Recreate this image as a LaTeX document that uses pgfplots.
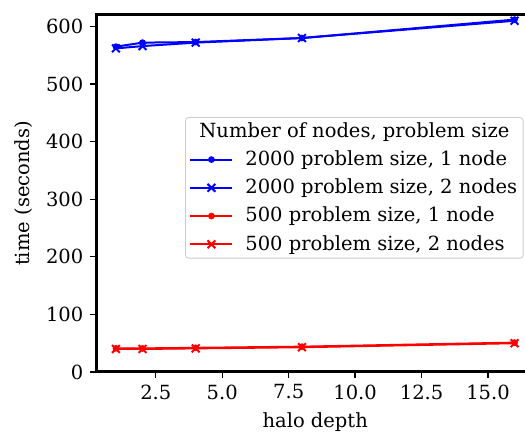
\documentclass[border=0pt]{standalone}
\usepackage{fontspec}
\setmainfont{DejaVu Serif}
\usepackage{pgfplots}
\pgfplotsset{compat=1.18}
\definecolor{seriesblue}{RGB}{0,0,255}
\definecolor{seriesred}{RGB}{255,0,0}
\definecolor{legendedge}{RGB}{204,204,204}
\newcommand{\chartfont}{\fontsize{19.5bp}{23bp}\selectfont}
\begin{document}
\chartfont
\begin{tikzpicture}[x=1bp,y=1bp]
\begin{axis}[
  at={(96bp,61bp)}, anchor=south west,
  scale only axis,
  width=438.5bp, height=357bp,
  xmin=0.25, xmax=16.75,
  ymin=0, ymax=620,
  xtick={2.5,5,7.5,10,12.5,15},
  xticklabels={2.5,5.0,7.5,10.0,12.5,15.0},
  ytick={0,100,...,600},
  /pgf/number format/assume math mode=true,
  tick align=outside, tick pos=left,
  major tick length=6bp,
  every tick/.style={black, line width=1.3bp},
  axis line style={black, line width=3bp},
  tick label style={font=\chartfont},
  label style={font=\chartfont},
  xlabel={halo depth},
  ylabel={time (seconds)},
  x label style={at={(ticklabel cs:0.5)}},
  legend style={
    at={(0.203,0.714)}, anchor=north west,
    draw=legendedge, rounded corners=3bp, line width=0.8bp,
    fill=white, fill opacity=0.8, text opacity=1,
    font=\chartfont,
    inner xsep=4bp, inner ysep=3bp,
    row sep=6.5bp, column sep=10bp,
  },
  legend cell align=left,
  legend image code/.code={
    \draw[mark repeat=2,mark phase=2]
      plot coordinates {(0bp,0bp) (21bp,0bp) (42bp,0bp)};
  },
  every axis plot/.append style={line width=2bp},
]
\addlegendimage{empty legend}
\addlegendentry{\hspace*{-46bp}Number of nodes, problem size}

\addplot[seriesblue, mark=*, mark size=2.3bp, mark options={solid}]
  coordinates {(1,565) (2,572) (4,573) (8,580) (16,612)};
\addlegendentry{2000 problem size, 1 node}

\addplot[seriesblue, mark=x, mark size=5.5bp, mark options={solid}]
  coordinates {(1,562) (2,566) (4,572) (8,580) (16,610)};
\addlegendentry{2000 problem size, 2 nodes}

\addplot[seriesred, mark=*, mark size=2.3bp, mark options={solid}]
  coordinates {(1,41) (2,41) (4,42) (8,44) (16,51)};
\addlegendentry{500 problem size, 1 node}

\addplot[seriesred, mark=x, mark size=5.5bp, mark options={solid}]
  coordinates {(1,40) (2,40) (4,41) (8,43) (16,50)};
\addlegendentry{500 problem size, 2 nodes}
\end{axis}
\pgfresetboundingbox
\path[use as bounding box] (0,0) rectangle (525,433);
\end{tikzpicture}
\end{document}
